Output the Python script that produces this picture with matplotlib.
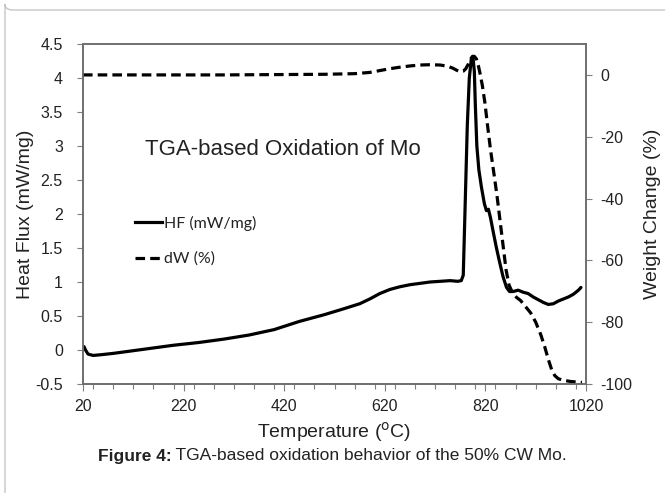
import matplotlib
matplotlib.use("Agg")
import matplotlib.pyplot as plt
from matplotlib.patches import FancyBboxPatch
from matplotlib.lines import Line2D
from matplotlib.ticker import MultipleLocator

plt.rcParams['font.family'] = ['Liberation Sans', 'DejaVu Sans']
plt.rcParams['axes.unicode_minus'] = False

# heat flux trace (temperature in °C, mW/mg)
hf_temp = [22, 25, 30, 40, 55, 80, 120, 160, 200, 250, 300, 350, 400, 450, 500,
           540, 570, 590, 610, 630, 650, 670, 690, 710, 730, 750, 765, 772, 776,
           780, 784, 788, 792, 795, 798, 800, 803, 807, 812, 818, 822, 826, 830,
           836, 842, 848, 855, 862, 868, 875, 885, 895, 905, 915, 925, 935, 945,
           955, 965, 975, 985, 995, 1005, 1010]
hf_val = [0.05, 0.0, -0.06, -0.08, -0.07, -0.05, -0.01, 0.03, 0.07, 0.11, 0.16,
          0.22, 0.30, 0.42, 0.52, 0.61, 0.68, 0.75, 0.83, 0.89, 0.93, 0.96, 0.98,
          1.00, 1.01, 1.02, 1.01, 1.02, 1.1, 2.2, 3.3, 4.0, 4.28, 4.32, 4.1, 3.6,
          3.0, 2.65, 2.4, 2.15, 2.05, 2.07, 1.95, 1.72, 1.5, 1.3, 1.08, 0.92, 0.86,
          0.86, 0.88, 0.85, 0.83, 0.78, 0.74, 0.70, 0.67, 0.68, 0.72, 0.75, 0.78,
          0.82, 0.88, 0.92]

# weight change trace (%)
dw_temp = [20, 100, 200, 300, 400, 500, 560, 590, 610, 630, 650, 670, 690, 710,
           730, 745, 755, 763, 770, 776, 781, 786, 790, 794, 798, 802, 806, 810,
           814, 819, 824, 830, 837, 843, 849, 855, 861, 867, 874, 882, 890, 900,
           910, 920, 930, 938, 945, 952, 958, 965, 975, 990, 1005, 1012]
dw_val = [0, 0, 0, 0, 0.1, 0.2, 0.4, 0.8, 1.4, 2.0, 2.5, 2.9, 3.2, 3.3, 3.2, 2.8,
          2.2, 1.5, 1.0, 1.2, 2.0, 3.5, 5.0, 5.9, 6.0, 5.2, 3.0, 0.0, -3.5, -9,
          -16, -24, -32, -39, -47, -55, -63, -68, -70.5, -72, -73, -75, -77, -80,
          -84, -88, -92, -95.5, -97.3, -98.3, -98.8, -99.2, -99.4, -99.5]

x_ticks = [20, 220, 420, 620, 820, 1020]
hf_ticks = [-0.5, 0, 0.5, 1, 1.5, 2, 2.5, 3, 3.5, 4, 4.5]
dw_ticks = [-100, -80, -60, -40, -20, 0]

axis_grey = '#7f7f7f'
text_col = '#222222'
dash = (3.0, 1.6)

fig = plt.figure(figsize=(6.65, 4.93), dpi=100)

# rounded frame around the figure panel
frame = FancyBboxPatch((5 / 665, 1 - 10 / 493), 1.2, -1.2,
                       boxstyle='round,pad=0,rounding_size=0.012',
                       transform=fig.transFigure, fill=False,
                       edgecolor='#c6c6c6', linewidth=1.0, clip_on=False)
fig.patches.append(frame)

ax = fig.add_axes([83 / 665, 1 - 384 / 493, (586 - 83) / 665, (384 - 44) / 493])
ax2 = ax.twinx()

ax.plot(hf_temp, hf_val, color='black', lw=2.3, solid_capstyle='round')
ax2.plot(dw_temp, dw_val, color='black', lw=2.3, dashes=dash)

ax.set_xlim(20, 1020)
ax.set_ylim(-0.5, 4.5)
ax2.set_ylim(-100, 10)

ax.set_xticks(x_ticks)
ax.xaxis.set_minor_locator(MultipleLocator(40))
ax.set_yticks(hf_ticks)
ax.set_yticklabels(['%g' % v for v in hf_ticks])
ax2.set_yticks(dw_ticks)
ax2.set_yticklabels(['%d' % v for v in dw_ticks])

for a in (ax, ax2):
    for s in a.spines.values():
        s.set_color('#6e6e6e')
        s.set_linewidth(1.2)
    a.tick_params(axis='both', which='both', colors=axis_grey, labelcolor=text_col,
                  labelsize=11.5, width=0.8)
ax.tick_params(axis='x', which='major', length=5, pad=6)
ax.tick_params(axis='x', which='minor', length=3.5)
ax.tick_params(axis='y', length=4.5, pad=10)
ax2.tick_params(axis='y', length=4.5, pad=6)

ax.set_xlabel('Temperature ($^{\\mathrm{o}}$C)', fontsize=14, color=text_col, labelpad=4)
ax.set_ylabel('Heat Flux (mW/mg)', fontsize=14, color=text_col, labelpad=1)
ax2.set_ylabel('Weight Change (%)', fontsize=14, color=text_col, labelpad=8)

ax.text(418, 2.95, 'TGA-based Oxidation of Mo', fontsize=16, color=text_col,
        ha='center', va='center')

handles = [Line2D([], [], color='black', lw=2.3),
           Line2D([], [], color='black', lw=2.3, dashes=dash)]
leg = ax.legend(handles, ['HF (mW/mg)', 'dW (%)'], loc='upper left',
                bbox_to_anchor=(135 / 665, 1 - 216 / 493), bbox_transform=fig.transFigure,
                frameon=False, borderpad=0, borderaxespad=0, handlelength=1.7,
                handletextpad=0.1, labelspacing=1.3,
                prop={'family': 'Lato', 'size': 11.5})
for t in leg.get_texts():
    t.set_color(text_col)

# caption: bold figure number followed by plain description
fig.canvas.draw()
renderer = fig.canvas.get_renderer()
bold = fig.text(0, 1 - 456 / 493, 'Figure 4:', fontsize=12.5, fontweight='bold',
                color=text_col, va='center')
rest_str = ' TGA-based oxidation behavior of the 50% CW Mo.'
rest = fig.text(0, 1 - 456 / 493, rest_str, fontsize=12.5, color=text_col, va='center')
wb = bold.get_window_extent(renderer).width
wr = rest.get_window_extent(renderer).width
x0 = (fig.bbox.width - wb - wr) / 2
bold.set_x(x0 / fig.bbox.width)
rest.set_x((x0 + wb) / fig.bbox.width)

fig.savefig('out.png', dpi=100)
